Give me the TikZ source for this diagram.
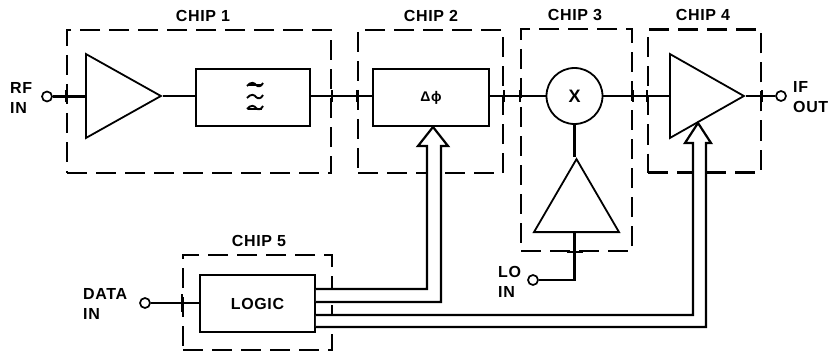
\documentclass[tikz,border=0pt]{standalone}
\usepackage{fontspec}
\setmainfont{Liberation Sans}[LetterSpace=4]
\usetikzlibrary{shapes.geometric}
\tikzset{
  x=1pt,y=-1pt,
  chipbox/.style={draw,line width=2.1pt,dash pattern=on 20pt off 9pt,minimum width=#1,inner sep=0pt},
  chipname/.style={font=\fontsize{16}{17}\selectfont\bfseries,inner sep=0pt},
  pinname/.style={font=\fontsize{16}{20}\selectfont\bfseries,inner sep=0pt,align=left},
  block/.style={draw,line width=1.8pt,inner sep=0pt,fill=white},
  amp/.style={draw,line width=1.8pt,isosceles triangle,isosceles triangle stretches=true,inner sep=0pt,fill=white,anchor=lower side},
  port/.style={draw,line width=1.7pt,circle,minimum size=10pt,inner sep=0pt,fill=white},
  wire/.style={line width=2.4pt},
  bus/.style={line width=2.2pt,line join=miter,fill=white},
  tick/.style={line width=2.1pt},
}
\begin{document}
\begin{tikzpicture}
\useasboundingbox[fill=white] (0,0) rectangle (831,353);
% chip outlines
\node[chipbox=264pt,minimum height=143pt] (c1) at (199,101.5) {};
\node[chipbox=145pt,minimum height=143pt] (c2) at (430.5,101.5) {};
\node[chipbox=111pt,minimum height=222pt] (c3) at (576.5,140) {};
\node[chipbox=113pt,minimum height=143pt] (c4) at (704.5,101) {};
\node[chipbox=149pt,minimum height=95pt] (c5) at (257.5,302.5) {};
\node[chipname] (n1) at (203,16) {CHIP 1};
\node[chipname] (n2) at (431,16) {CHIP 2};
\node[chipname] (n3) at (575,15) {CHIP 3};
\node[chipname] (n4) at (703,15) {CHIP 4};
\node[chipname] (n5) at (259,241) {CHIP 5};
% ports
\node[port] (rf) at (47,96.5) {};
\node[port] (iff) at (781,96) {};
\node[port] (data) at (145,303) {};
\node[port] (lo) at (533,280) {};
\node[pinname,anchor=west] (rft) at (10,97.5) {RF\\IN};
\node[pinname,anchor=west] (ift) at (793,97) {IF\\OUT};
\node[pinname,anchor=west] (datat) at (83,303.5) {DATA\\IN};
\node[pinname,anchor=west] (lot) at (498,282) {LO\\IN};
% blocks
\node[amp,minimum width=84pt,minimum height=75pt] (a1) at (85,96) {};
\node[block,minimum width=114pt,minimum height=57pt] (filt) at (253,97.5) {};
\node[block,minimum width=116pt,minimum height=57pt,font=\fontsize{14}{15}\selectfont\bfseries] (ph) at (431,97.5) {Δϕ};
\node[draw,line width=1.8pt,circle,minimum size=56pt,inner sep=0pt,fill=white,font=\fontsize{18}{19}\selectfont\bfseries] (mix) at (574.5,96) {X};
\node[amp,shape border rotate=90,minimum width=85pt,minimum height=73pt] (a3) at (576.5,233) {};
\node[amp,minimum width=84pt,minimum height=74pt] (a4) at (669,96) {};
\node[block,minimum width=115pt,minimum height=57pt,font=\fontsize{16}{17}\selectfont\bfseries] (logic) at (257.5,303.5) {LOGIC};
% wires
\draw[wire] (rf) -- (rf -| a1.lower side);
\draw[wire] (a1.apex) -- (a1.apex -| filt.west);
\draw[wire] (a1.apex -| filt.east) -- (a1.apex -| ph.west);
\draw[wire] (a1.apex -| ph.east) -- (a1.apex -| mix.west);
\draw[wire] (mix.east) -- (mix.east -| a4.lower side);
\draw[wire] (a4.apex) -- (iff);
\draw[wire] (mix.south) -- (mix.south |- a3.apex);
\draw[wire] (mix.south |- a3.lower side) |- (lo);
\draw[wire] (data) -- (data -| logic.west);
% dashes crossed by the wires
\foreach \b/\a in {c1.west/rf,c1.east/a1.apex,c2.west/a1.apex,c2.east/a1.apex,c3.west/mix,c3.east/mix,c4.west/mix,c4.east/iff}{
  \draw[tick] ([yshift=-6pt]\b |- \a) -- ([yshift=6pt]\b |- \a);
}
\draw[tick] ([yshift=-9pt]c5.west |- data) -- ([yshift=9pt]c5.west |- data);
\draw[tick] ([xshift=-8pt]mix.south |- c3.south) -- ([xshift=8pt]mix.south |- c3.south);
% hollow buses
\coordinate (t2) at (433,127);
\coordinate (t4) at (698,123);
\draw[bus] (logic.east |- 0,289) -- (427,289) -- (427,146) -- (418,146) -- (t2) -- (448,146) -- (441,146) -- (441,302) -- (logic.east |- 0,302);
\draw[bus] (logic.east |- 0,315) -- (693,315) -- (693,143) -- (685,143) -- (t4) -- (711,143) -- (706,143) -- (706,327) -- (logic.east |- 0,327);
% filter symbol
\foreach \yy in {85,97,108}{
  \draw[line width=1.9pt] (247,\yy+1) .. controls (251,\yy-4) and (255,\yy-2) .. (256,\yy) .. controls (258,\yy+2) and (261,\yy+2) .. (263,\yy-2);
}
\draw[line width=1.5pt] (248,85) -- (262,85);
\draw[line width=1.5pt] (248,109) -- (262,109);
\end{tikzpicture}
\end{document}
